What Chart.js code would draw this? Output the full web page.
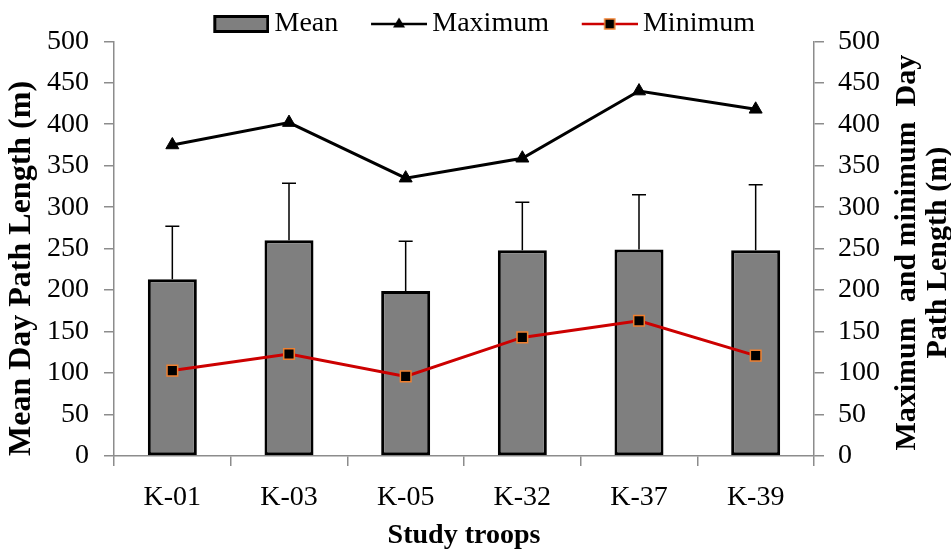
<!DOCTYPE html>
<html>
<head>
<meta charset="utf-8">
<script src="https://cdn.jsdelivr.net/npm/chart.js@4/dist/chart.umd.min.js"></script>
<style>
html,body{margin:0;padding:0;background:#ffffff;}
#wrap{width:951px;height:553px;position:relative;}
</style>
</head>
<body>
<div id="wrap"><canvas id="c" width="951" height="553"></canvas></div>
<script>
// ---- data ----
const categories = ['K-01', 'K-03', 'K-05', 'K-32', 'K-37', 'K-39'];
const meanValues = [213, 260, 199, 248, 249, 248];
const meanErrors = [64, 69, 60, 58, 66, 79];
const maxValues = [375, 402, 335, 359, 440, 418];
const minValues = [103, 123, 96, 143, 163, 121];
const axisMin = 0;
const axisMax = 500;
const axisStep = 50;
const seriesNames = ['Mean', 'Maximum', 'Minimum'];
const xTitle = 'Study troops';
const yTitle = 'Mean Day Path Length (m)';
const y1TitleLines = ['Maximum  and minimum  Day', 'Path Length (m)'];

// ---- styling ----
const FONT = 'Liberation Serif';
const AXIS_COLOR = '#8c8c8c';
const BAR_FILL = '#7f7f7f';
const RED = '#cc0000';
const ORANGE = '#f08030';

function legendImage(kind) {
  const W = 82, H = 24, vis = 56;
  const c = document.createElement('canvas');
  c.width = W; c.height = H;
  const g = c.getContext('2d');
  const x0 = W - vis;
  const cy = H / 2;
  if (kind === 'bar') {
    g.fillStyle = BAR_FILL;
    g.fillRect(x0 + 1, cy - 8, vis - 2, 16);
    g.strokeStyle = '#000';
    g.lineWidth = 3;
    g.strokeRect(x0 + 1.5, cy - 7.5, vis - 3, 15);
  } else if (kind === 'max') {
    g.strokeStyle = '#000';
    g.lineWidth = 2.5;
    g.beginPath(); g.moveTo(x0, cy); g.lineTo(W, cy); g.stroke();
    const mx = x0 + vis / 2;
    g.fillStyle = '#000';
    g.beginPath();
    g.moveTo(mx, cy - 6.5); g.lineTo(mx + 6, cy + 3.5); g.lineTo(mx - 6, cy + 3.5);
    g.closePath(); g.fill();
  } else {
    g.strokeStyle = RED;
    g.lineWidth = 2.5;
    g.beginPath(); g.moveTo(x0, cy); g.lineTo(W, cy); g.stroke();
    const mx = x0 + vis / 2;
    g.fillStyle = '#000';
    g.fillRect(mx - 5, cy - 5, 10, 10);
    g.strokeStyle = ORANGE;
    g.lineWidth = 1.5;
    g.strokeRect(mx - 5, cy - 5, 10, 10);
  }
  return c;
}
const legendImgs = [legendImage('bar'), legendImage('max'), legendImage('min')];

const errorBars = {
  id: 'errorBars',
  afterDatasetDraw(chart, args) {
    if (args.index !== 0) return;
    const ys = chart.scales.y;
    const ctx = chart.ctx;
    ctx.save();
    ctx.strokeStyle = '#000';
    ctx.lineWidth = 1.5;
    args.meta.data.forEach((bar, i) => {
      const x = bar.x;
      const yBase = ys.getPixelForValue(meanValues[i]);
      const yTop = ys.getPixelForValue(meanValues[i] + meanErrors[i]);
      ctx.beginPath();
      ctx.moveTo(x, yBase); ctx.lineTo(x, yTop);
      ctx.moveTo(x - 7, yTop); ctx.lineTo(x + 7, yTop);
      ctx.stroke();
    });
    ctx.restore();
  }
};

const rightTitle = {
  id: 'rightTitle',
  afterDraw(chart) {
    const s = chart.scales.y1;
    const ctx = chart.ctx;
    const cx = s.right - 28;
    const cy = (chart.chartArea.top + chart.chartArea.bottom) / 2 + 4;
    ctx.save();
    ctx.font = 'bold 30px "' + FONT + '"';
    ctx.fillStyle = '#000';
    ctx.textAlign = 'center';
    ctx.textBaseline = 'middle';
    ctx.translate(cx, cy);
    ctx.rotate(-Math.PI / 2);
    ctx.fillText(y1TitleLines[0], 0, -15.5);
    ctx.fillText(y1TitleLines[1], 0, 15.5);
    ctx.restore();
  }
};

const tickFont = { family: FONT, size: 28 };

new Chart(document.getElementById('c'), {
  type: 'bar',
  data: {
    labels: categories,
    datasets: [
      {
        type: 'bar',
        label: seriesNames[0],
        data: meanValues,
        yAxisID: 'y',
        backgroundColor: BAR_FILL,
        borderColor: '#000',
        borderWidth: 3,
        borderSkipped: false,
        categoryPercentage: 1.0,
        barPercentage: 0.42,
        order: 3
      },
      {
        type: 'line',
        label: seriesNames[1],
        data: maxValues,
        yAxisID: 'y1',
        borderColor: '#000',
        borderWidth: 3,
        pointStyle: 'triangle',
        pointRadius: 7.5,
        pointBackgroundColor: '#000',
        pointBorderColor: '#000',
        pointBorderWidth: 1,
        tension: 0,
        order: 2
      },
      {
        type: 'line',
        label: seriesNames[2],
        data: minValues,
        yAxisID: 'y1',
        borderColor: RED,
        borderWidth: 3,
        pointStyle: 'rect',
        pointRadius: 7.5,
        pointBackgroundColor: '#000',
        pointBorderColor: ORANGE,
        pointBorderWidth: 1.5,
        tension: 0,
        order: 1
      }
    ]
  },
  options: {
    responsive: false,
    devicePixelRatio: 1,
    animation: false,
    layout: { padding: { top: -5.5, left: 0, right: 0, bottom: 0 } },
    plugins: {
      tooltip: { enabled: false },
      legend: {
        display: true,
        position: 'top',
        maxHeight: 46.8,
        labels: {
          usePointStyle: true,
          pointStyleWidth: 64.5,
          padding: 15.5,
          color: '#000',
          font: { family: FONT, size: 28 },
          generateLabels: (chart) => chart.data.datasets.map((ds, i) => ({
            text: ds.label,
            pointStyle: legendImgs[i],
            datasetIndex: i,
            hidden: false,
            fillStyle: 'rgba(0,0,0,0)',
            strokeStyle: 'rgba(0,0,0,0)',
            lineWidth: 0,
            fontColor: '#000'
          }))
        }
      }
    },
    scales: {
      x: {
        offset: true,
        grid: { display: true, drawOnChartArea: false, drawTicks: true, tickLength: 10, color: AXIS_COLOR, offset: true, lineWidth: 1.5 },
        border: { display: true, color: AXIS_COLOR, width: 1.5 },
        ticks: { font: tickFont, color: '#000', padding: 15, maxRotation: 0 },
        title: { display: true, text: xTitle, color: '#000', font: { family: FONT, size: 28, weight: 'bold' }, padding: { top: 4, bottom: 0 } },
        afterFit: (s) => { s.height = 97; }
      },
      y: {
        position: 'left',
        min: axisMin, max: axisMax,
        grid: { display: true, drawOnChartArea: false, drawTicks: true, tickLength: 10, color: AXIS_COLOR, lineWidth: 1.5 },
        border: { display: true, color: AXIS_COLOR, width: 1.5 },
        ticks: { stepSize: axisStep, font: tickFont, color: '#000', padding: 15 },
        title: { display: true, align: 'start', text: yTitle, color: '#000', font: { family: FONT, size: 32, weight: 'bold' }, padding: { top: 3, bottom: 4 } },
        afterFit: (s) => { s.width = 114; }
      },
      y1: {
        position: 'right',
        min: axisMin, max: axisMax,
        grid: { display: true, drawOnChartArea: false, drawTicks: true, tickLength: 10, color: AXIS_COLOR, lineWidth: 1.5 },
        border: { display: true, color: AXIS_COLOR, width: 1.5 },
        ticks: { stepSize: axisStep, font: tickFont, color: '#000', padding: 14 },
        afterFit: (s) => { s.width = 137; }
      }
    }
  },
  plugins: [errorBars, rightTitle]
});
</script>
</body>
</html>
